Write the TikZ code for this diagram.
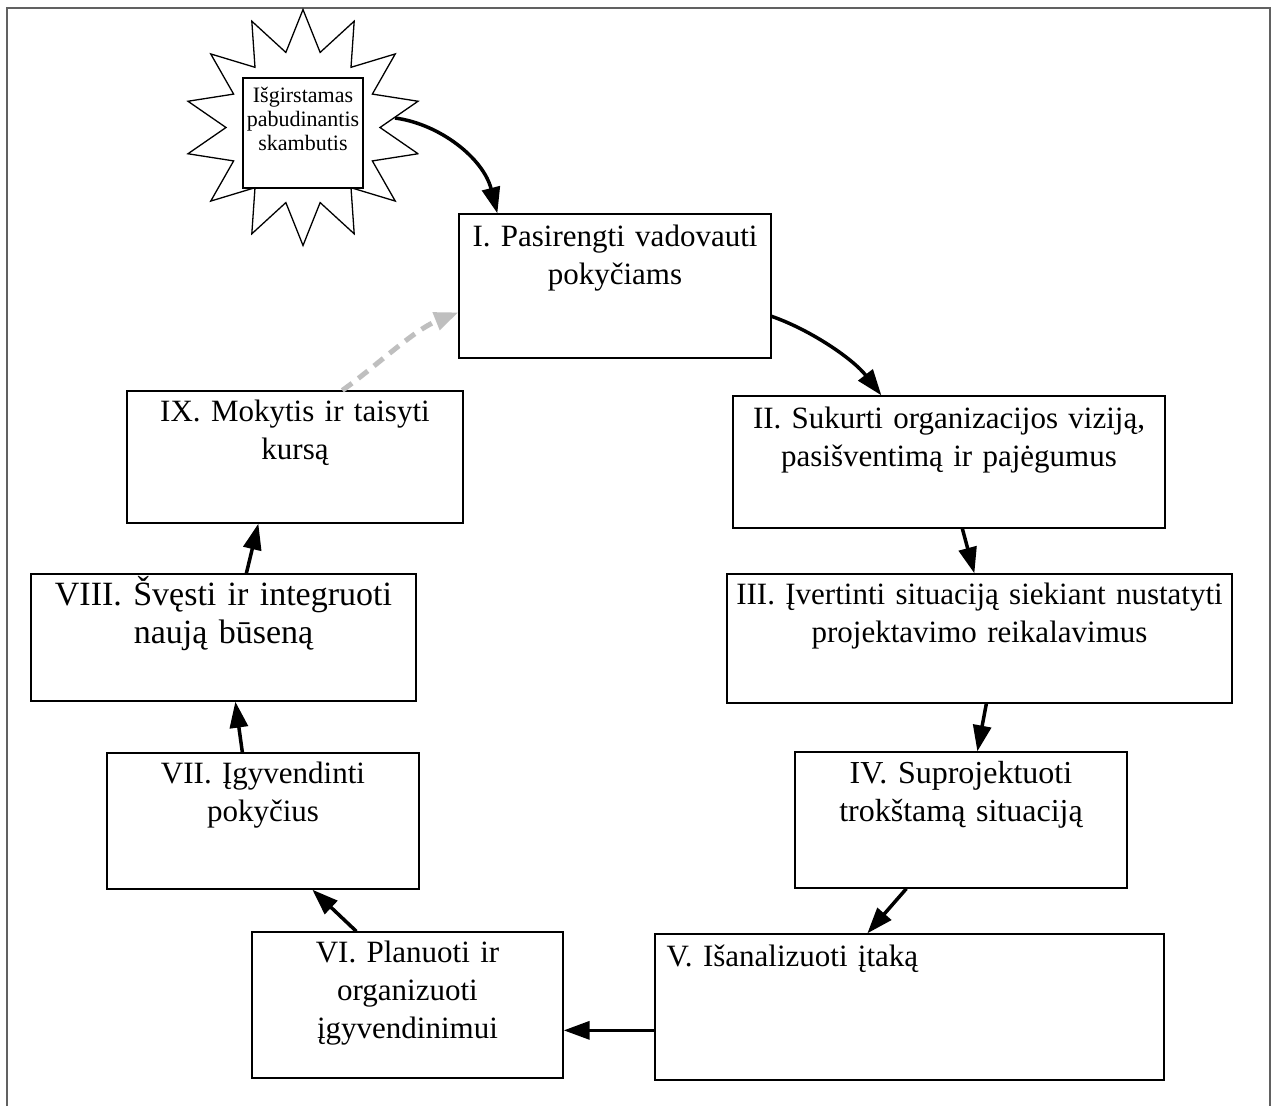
\documentclass[tikz,border=0pt]{standalone}
\usepackage{fontspec}
\setmainfont{Liberation Serif}
\usetikzlibrary{arrows.meta,calc}
\begin{document}
\begin{tikzpicture}[x=1pt,y=-1pt,
  box/.style={draw=black, line width=1.3pt, fill=white, rectangle, inner sep=0pt},
  boxtext/.style={anchor=base, inner sep=0pt, align=center, font=\fontsize{31}{38}\selectfont},
  calltext/.style={anchor=base, inner sep=0pt, align=center, font=\fontsize{22}{24}\selectfont},
  flow/.style={draw=black, line width=3.5pt, -{Triangle[length=26pt,width=18pt]}},
  back/.style={draw=black!25, line width=5pt, dash pattern=on 12pt off 8pt, -{Triangle[length=24pt,width=18pt]}},
  frameline/.style={draw=black!62, line width=2pt},
  burst/.style={draw=black, line width=1.3pt, fill=white, line join=miter}]

\useasboundingbox (0,0) rectangle (1276,1106);
\fill[white] (0,0) rectangle (1276,1106);

% open frame round the cycle
\draw[frameline] (7,1106) -- (7,8) -- (1270,8) -- (1270,1106);

% wake-up call: fourteen-point starburst with a box in front
\begin{scope}[shift={(303,127.5)}]
  \draw[burst] (12.857:118)
    \foreach \k in {0,...,13} {
      -- ({25.714+25.714*\k}:77) -- ({38.571+25.714*\k}:118)
    } -- cycle;
\end{scope}
\node[box, minimum width=120pt, minimum height=110pt] (call) at (303,133) {};
\node[calltext, text width=120pt] (callt) at ($(call.north)+(0,25)$) {Išgirstamas\\pabudinantis\\skambutis};
\coordinate (callout) at (395,118);

% the nine stages
\node[box, minimum width=312pt, minimum height=144pt] (b1) at (615,286) {};
\node[box, minimum width=432pt, minimum height=132pt] (b2) at (949,462) {};
\node[box, minimum width=505pt, minimum height=129pt] (b3) at (979.5,638.5) {};
\node[box, minimum width=332pt, minimum height=136pt] (b4) at (961,820) {};
\node[box, minimum width=509pt, minimum height=146pt] (b5) at (909.5,1007) {};
\node[box, minimum width=311pt, minimum height=146pt] (b6) at (407.5,1005) {};
\node[box, minimum width=312pt, minimum height=136pt] (b7) at (263,821) {};
\node[box, minimum width=385pt, minimum height=127pt] (b8) at (223.5,637.5) {};
\node[box, minimum width=336pt, minimum height=132pt] (b9) at (295,457) {};

\node[boxtext, text width=312pt] (t1) at ($(b1.north)+(0,33)$) {I. Pasirengti vadovauti\\pokyčiams};
\node[boxtext, text width=432pt] (t2) at ($(b2.north)+(0,33)$) {II. Sukurti organizacijos viziją,\\pasišventimą ir pajėgumus};
\node[boxtext, text width=505pt] (t3) at ($(b3.north)+(0,31)$) {III. Įvertinti situaciją siekiant nustatyti\\projektavimo reikalavimus};
\node[boxtext, text width=332pt, font=\fontsize{32}{38}\selectfont] (t4) at ($(b4.north)+(0,32)$) {IV. Suprojektuoti\\trokštamą situaciją};
\node[boxtext, anchor=base west, align=left, text width=480pt] (t5) at ($(b5.north west)+(12,33)$) {V. Išanalizuoti įtaką};
\node[boxtext, text width=311pt] (t6) at ($(b6.north)+(0,31)$) {VI. Planuoti ir\\organizuoti\\įgyvendinimui};
\node[boxtext, text width=312pt] (t7) at ($(b7.north)+(0,31)$) {VII. Įgyvendinti\\pokyčius};
\node[boxtext, text width=385pt, font=\fontsize{34}{38}\selectfont] (t8) at ($(b8.north)+(0,32)$) {VIII. Švęsti ir integruoti\\naują būseną};
\node[boxtext, text width=336pt] (t9) at ($(b9.north)+(0,31)$) {IX. Mokytis ir taisyti\\kursą};

% connectors around the cycle
\draw[flow] (callout) .. controls +(45,6) and +(-14,-55) .. ($(b1.north west)+(39,0)$);
\draw[flow] ($(b1.north east)+(0,103)$) .. controls +(40,14) and +(-28,-36) .. ($(b2.north west)+(149,0)$);
\draw[flow] ($(b2.south west)+(230,0)$) -- ($(b3.north west)+(248,0)$);
\draw[flow] ($(b3.south west)+(260,0)$) -- ($(b4.north west)+(183,0)$);
\draw[flow] ($(b4.south west)+(112,0)$) -- ($(b5.north west)+(213,0)$);
\draw[flow] ($(b5.north west)+(0,97)$) -- ($(b6.north east)+(0,99)$);
\draw[flow] ($(b6.north west)+(105,0)$) -- ($(b7.south west)+(206,0)$);
\draw[flow] ($(b7.north west)+(136,0)$) -- ($(b8.south west)+(205,0)$);
\draw[flow] ($(b8.north west)+(216,0)$) -- ($(b9.south west)+(132,0)$);
\draw[back] ($(b9.north west)+(216,0)$) .. controls +(35,-25) and +(-45,18) .. ($(b1.north west)+(0,99)$);

\end{tikzpicture}
\end{document}
